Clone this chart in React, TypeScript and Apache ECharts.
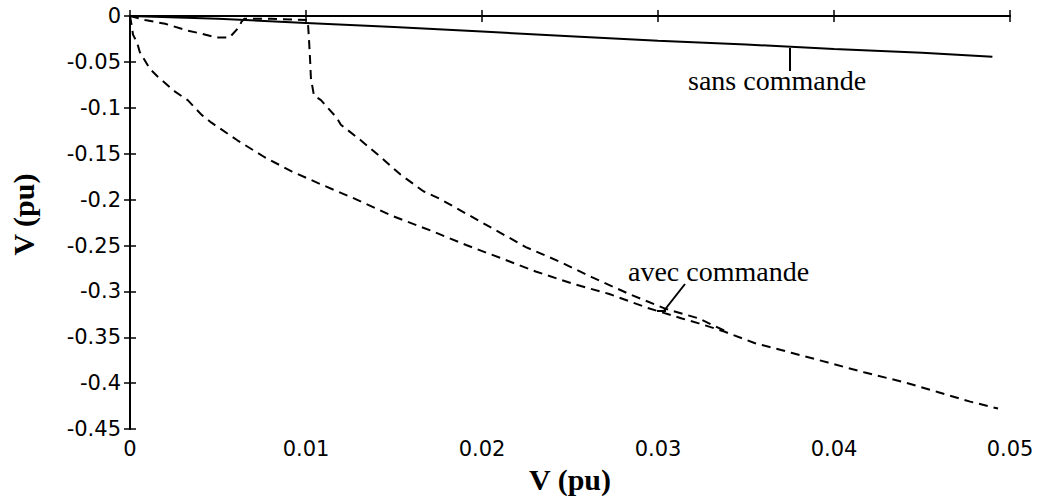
import React, { useEffect, useRef } from "react";
import * as echarts from "echarts";

// x ticks / y ticks
const xTicks = [0, 0.01, 0.02, 0.03, 0.04, 0.05];
const yTicks = [0, -0.05, -0.1, -0.15, -0.2, -0.25, -0.3, -0.35, -0.4, -0.45];

// "sans commande" (solid)
const sansX = [0, 0.005, 0.01, 0.015, 0.02, 0.025, 0.03, 0.035, 0.04, 0.045, 0.049];
const sansY = [0, -0.003, -0.0075, -0.012, -0.017, -0.022, -0.027, -0.031, -0.036, -0.04, -0.0443];

// "avec commande" curve 1 (dashed, drops from origin)
const avec1X = [0, 0.00011, 0.00017, 0.0004, 0.00056, 0.00113, 0.00158, 0.00254, 0.00328, 0.00407, 0.00463, 0.0061, 0.00763, 0.00921, 0.01085, 0.01282, 0.01486, 0.01706, 0.0191, 0.02102, 0.02305, 0.02525, 0.02723, 0.02938, 0.03136, 0.03232, 0.0338, 0.03548, 0.03757, 0.03966, 0.0417, 0.04395, 0.04588, 0.04774, 0.04932];
const avec1Y = [0, -0.0117, -0.0203, -0.0288, -0.0395, -0.0576, -0.0661, -0.0821, -0.0917, -0.1077, -0.1162, -0.1354, -0.1536, -0.1695, -0.1834, -0.1994, -0.2175, -0.2335, -0.2495, -0.2634, -0.2783, -0.2922, -0.3028, -0.3178, -0.3295, -0.3348, -0.344, -0.3562, -0.3668, -0.3775, -0.3881, -0.3988, -0.4095, -0.4201, -0.4276];

// "avec commande" curve 2 (dashed, small dip then drop at 0.01), joins curve 1
const avec2X = [0, 0.00085, 0.002, 0.00328, 0.00407, 0.00492, 0.00565, 0.00621, 0.00633, 0.0065, 0.008, 0.0101, 0.01017, 0.01023, 0.01028, 0.01045, 0.01085, 0.01175, 0.01198, 0.01311, 0.01424, 0.01537, 0.01667, 0.01763, 0.02, 0.02249, 0.02441, 0.02627, 0.02836, 0.0304, 0.03232, 0.0338];
const avec2Y = [0, -0.0043, -0.0085, -0.016, -0.0192, -0.0235, -0.0235, -0.0117, -0.0064, -0.003, -0.003, -0.0043, -0.0256, -0.0469, -0.068, -0.0864, -0.0917, -0.1109, -0.1184, -0.1354, -0.1536, -0.1727, -0.1909, -0.1994, -0.225, -0.2517, -0.2676, -0.2847, -0.3028, -0.3188, -0.3295, -0.343];

const pairs = (xs: number[], ys: number[]) => xs.map((x, i) => [x, ys[i]]);

const tickFont = "DejaVu Sans";
const serif = "Liberation Serif";

export default function App() {
  const ref = useRef<HTMLDivElement>(null);
  useEffect(() => {
    if (!ref.current) return;
    const chart = echarts.init(ref.current, null, { renderer: "svg" });
    const fmt = (v: number) => String(Math.round(v * 1000) / 1000);
    const axisLine = { show: true, lineStyle: { color: "#000", width: 2 } };
    const tick = { show: true, inside: true, length: 6, lineStyle: { color: "#000", width: 1.5 } };
    const label = { color: "#000", fontFamily: tickFont, fontSize: 21, margin: 9, formatter: fmt };
    chart.setOption({
      animation: false,
      backgroundColor: "#fff",
      grid: { left: 125, right: 33, top: 16, bottom: 61, containLabel: false },
      xAxis: [
        {
          type: "value",
          min: xTicks[0],
          max: xTicks[xTicks.length - 1],
          interval: 0.01,
          position: "bottom",
          axisLine,
          axisTick: tick,
          splitLine: { show: false },
          axisLabel: label,
          name: "V (pu)",
          nameLocation: "middle",
          nameGap: 29,
          nameTextStyle: { color: "#000", fontFamily: serif, fontWeight: "bold", fontSize: 30 },
        },
        {
          type: "value",
          min: xTicks[0],
          max: xTicks[xTicks.length - 1],
          interval: 0.01,
          position: "top",
          axisLine,
          axisTick: tick,
          splitLine: { show: false },
          axisLabel: { show: false },
        },
      ],
      yAxis: [
        {
          type: "value",
          min: yTicks[yTicks.length - 1],
          max: yTicks[0],
          interval: 0.05,
          position: "left",
          axisLine,
          axisTick: tick,
          splitLine: { show: false },
          axisLabel: label,
          name: "V (pu)",
          nameLocation: "middle",
          nameGap: 92,
          nameTextStyle: { color: "#000", fontFamily: serif, fontWeight: "bold", fontSize: 30, padding: [0, 0, 0, 16] },
        },
        {
          type: "value",
          min: yTicks[yTicks.length - 1],
          max: yTicks[0],
          interval: 0.05,
          position: "right",
          axisLine,
          axisTick: tick,
          splitLine: { show: false },
          axisLabel: { show: false },
        },
      ],
      series: [
        {
          name: "sans commande",
          type: "line",
          data: pairs(sansX, sansY),
          showSymbol: false,
          lineStyle: { color: "#000", width: 2, type: "solid" },
        },
        {
          name: "avec commande 1",
          type: "line",
          data: pairs(avec1X, avec1Y),
          showSymbol: false,
          lineStyle: { color: "#000", width: 2, type: [9, 6] },
        },
        {
          name: "avec commande 2",
          type: "line",
          data: pairs(avec2X, avec2Y),
          showSymbol: false,
          lineStyle: { color: "#000", width: 2, type: [9, 6] },
        },
      ],
      graphic: [
        {
          type: "text",
          left: 688,
          top: 66,
          style: { text: "sans commande", fill: "#000", font: `28px "${serif}"` },
        },
        {
          type: "line",
          shape: { x1: 790, y1: 48, x2: 790, y2: 71 },
          style: { stroke: "#000", lineWidth: 2 },
        },
        {
          type: "text",
          left: 628,
          top: 257,
          style: { text: "avec commande", fill: "#000", font: `28px "${serif}"` },
        },
        {
          type: "line",
          shape: { x1: 685, y1: 284, x2: 663, y2: 312 },
          style: { stroke: "#000", lineWidth: 2 },
        },
        {
          type: "line",
          shape: { x1: 657, y1: 311, x2: 666, y2: 311 },
          style: { stroke: "#000", lineWidth: 2 },
        },
      ],
    });
    return () => chart.dispose();
  }, []);
  return (
    <div
      ref={ref}
      style={{ position: "absolute", left: 0, top: 0, width: 1043, height: 499, background: "#fff" }}
    />
  );
}
